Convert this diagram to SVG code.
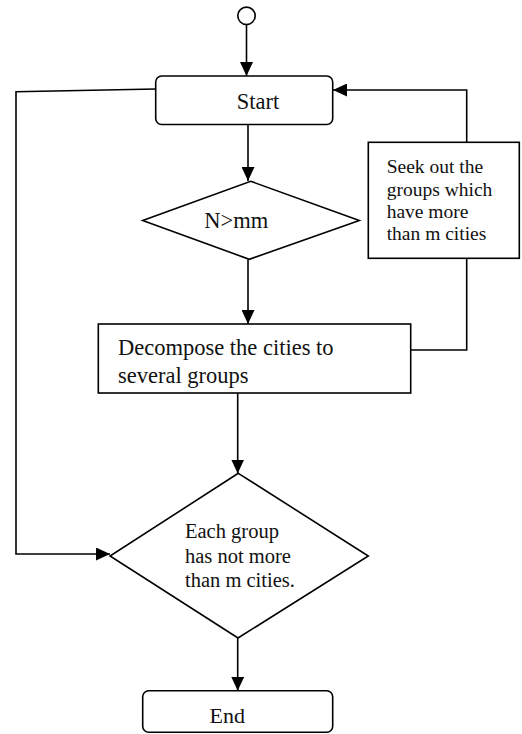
<svg xmlns="http://www.w3.org/2000/svg" width="522" height="734" viewBox="0 0 522 734">
  <style>
    .shape { fill: #ffffff; stroke: #000000; stroke-width: 1.6; }
    .wire { fill: none; stroke: #000000; stroke-width: 1.6; }
    .lbl { font-family: "Liberation Serif", "Times New Roman", serif; fill: #111111; }
  </style>
  <defs>
    <marker id="arrow" markerUnits="userSpaceOnUse" markerWidth="15" markerHeight="13" refX="14" refY="6.5" orient="auto">
      <path d="M0,0 L14,6.5 L0,13 z" fill="#000000"/>
    </marker>
    <clipPath id="decompClip">
      <rect x="99" y="325" width="311" height="64"/>
    </clipPath>
  </defs>

  <!-- connectors -->
  <g id="connectors">
    <line class="wire" x1="246.5" y1="24.5" x2="246.5" y2="76" marker-end="url(#arrow)"/>
    <line class="wire" x1="248" y1="124.5" x2="248" y2="181" marker-end="url(#arrow)"/>
    <line class="wire" x1="248" y1="259.5" x2="248" y2="324" marker-end="url(#arrow)"/>
    <line class="wire" x1="237.7" y1="393" x2="237.7" y2="473.5" marker-end="url(#arrow)"/>
    <line class="wire" x1="237.7" y1="638" x2="237.7" y2="690.7" marker-end="url(#arrow)"/>
    <polyline class="wire" points="410.7,350 466.7,350 466.7,258.3"/>
    <polyline class="wire" points="466.7,142.3 466.7,90 333,90" marker-end="url(#arrow)"/>
    <polyline class="wire" points="155.7,89 16,91.7 16,554 110,554" marker-end="url(#arrow)"/>
  </g>

  <!-- initial node -->
  <g id="initial">
    <circle class="shape" cx="246.5" cy="15.8" r="8.7"/>
  </g>

  <g id="start">
    <rect class="shape" x="155.7" y="76" width="177" height="48.5" rx="6" ry="6"/>
    <text class="lbl" x="258" y="109.3" font-size="22.5" text-anchor="middle">Start</text>
  </g>

  <g id="check-n">
    <polygon class="shape" points="250.7,181.3 359.3,220.5 249.3,259.3 142.7,220.5"/>
    <text class="lbl" x="236.2" y="228.3" font-size="22.5" text-anchor="middle">N&gt;mm</text>
  </g>

  <g id="seek">
    <rect class="shape" x="368.3" y="142.3" width="151" height="116"/>
    <text class="lbl" font-size="19.5">
      <tspan x="386.7" y="173.3">Seek out the</tspan>
      <tspan x="386.7" y="195.8">groups which</tspan>
      <tspan x="386.7" y="218.2">have more</tspan>
      <tspan x="386.7" y="240.4">than m cities</tspan>
    </text>
  </g>

  <g id="decompose">
    <rect class="shape" x="98.3" y="324" width="312.4" height="69"/>
    <text class="lbl" font-size="22.5" clip-path="url(#decompClip)">
      <tspan x="118" y="355">Decompose the cities to</tspan>
      <tspan x="118" y="382.5">several groups</tspan>
    </text>
  </g>

  <g id="check-groups">
    <polygon class="shape" points="238.3,473.3 368.3,556 238,638 110,556"/>
    <text class="lbl" font-size="20.5">
      <tspan x="185" y="538.3">Each group</tspan>
      <tspan x="185" y="562.5">has not more</tspan>
      <tspan x="185" y="586.7">than m cities.</tspan>
    </text>
  </g>

  <g id="end">
    <rect class="shape" x="142.7" y="690.7" width="190" height="41.5" rx="6" ry="6"/>
    <text class="lbl" x="227.2" y="723.3" font-size="22" text-anchor="middle">End</text>
  </g>
</svg>
